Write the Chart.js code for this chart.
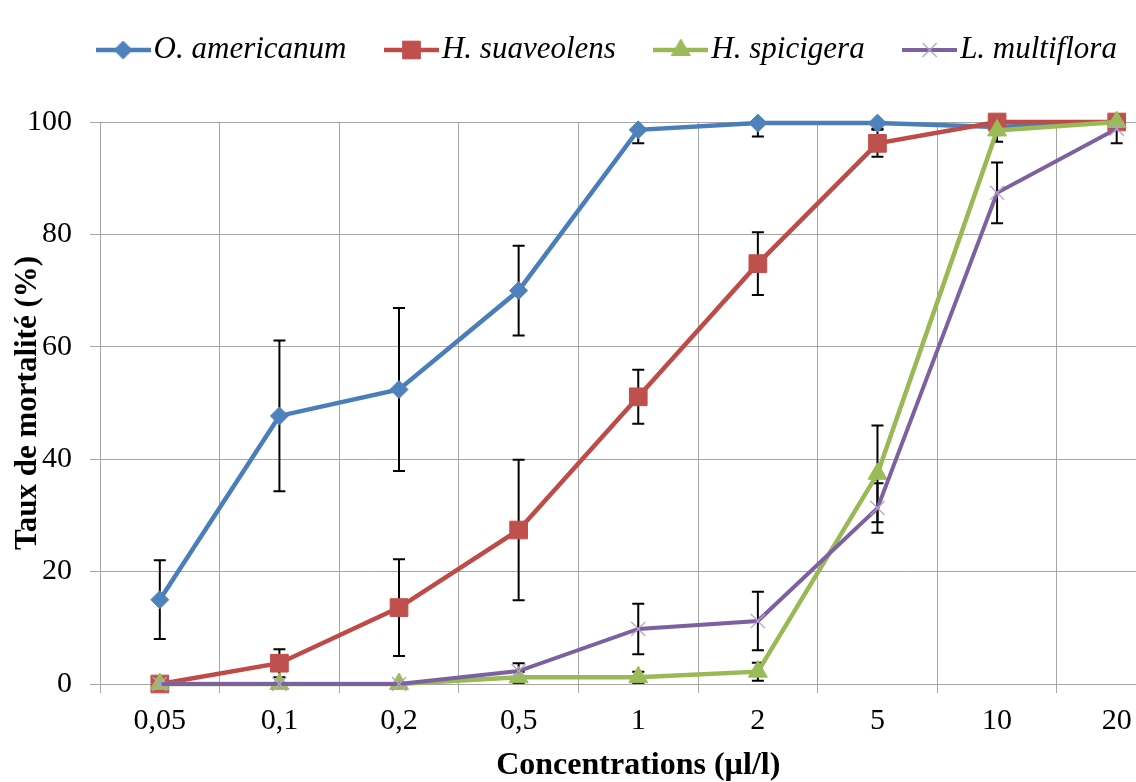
<!DOCTYPE html>
<html>
<head>
<meta charset="utf-8">
<script src="https://cdn.jsdelivr.net/npm/chart.js@4.4.1/dist/chart.umd.min.js"></script>
<style>
  html, body { margin: 0; padding: 0; background: #fff; overflow: hidden; }
  #wrap { position: relative; width: 1136px; height: 782px; overflow: hidden; background: #fff; }
  #c { position: absolute; left: 0; top: 0; }
</style>
</head>
<body>
<div id="wrap"><canvas id="c" width="1190" height="782"></canvas></div>
<script>
// ---- data ----
const categories = ["0,05", "0,1", "0,2", "0,5", "1", "2", "5", "10", "20"];
const seriesNames = ["O. americanum", "H. suaveolens", "H. spicigera", "L. multiflora"];
const oAmericanum  = [15, 47.7, 52.4, 70, 98.6, 99.8, 99.8, 99.1, 100];
const hSuaveolens  = [0, 3.7, 13.6, 27.4, 51.1, 74.8, 96.2, 100, 100];
const hSpicigera   = [0, 0, 0, 1.2, 1.2, 2.2, 37.4, 98.5, 100];
const lMultiflora  = [0, 0, 0, 2.3, 9.8, 11.2, 31.3, 87.4, 98.8];
const oAmericanumErr = [7, 13.4, 14.5, 8, 2.4, 2.4, 1, 1, 0];
const hSuaveolensErr = [0, 2.5, 8.6, 12.5, 4.8, 5.6, 2.4, 0, 0];
const hSpicigeraErr  = [0, 0, 0, 1, 1, 1.6, 8.6, 2, 0];
const lMultifloraErr = [0, 0, 0, 1.4, 4.5, 5.2, 4.4, 5.4, 2.6];
const yTicks = [0, 20, 40, 60, 80, 100];

const FONT = "'Liberation Serif', 'Times New Roman', serif";
Chart.defaults.color = '#000';
Chart.defaults.font.family = FONT;

const styles = [
  { line: '#4A7EBB', fill: '#4F81BD', border: '#4F81BD', point: 'rectRot', radius: 9, lw: 4.5, pbw: 1 },
  { line: '#BE4B48', fill: '#C0504D', border: '#C0504D', point: 'rect', radius: 12.5, lw: 4.5, pbw: 1 },
  { line: '#98B954', fill: '#9BBB59', border: '#9BBB59', point: 'triangle', radius: 11, lw: 4.5, pbw: 1 },
  { line: '#7D60A0', fill: 'rgba(0,0,0,0)', border: '#B3A2C7', point: 'crossRot', radius: 10, lw: 4, pbw: 1.3 }
];
const values = [oAmericanum, hSuaveolens, hSpicigera, lMultiflora];
const errors = [oAmericanumErr, hSuaveolensErr, hSpicigeraErr, lMultifloraErr];

function makeIcon(s) {
  const cv = document.createElement('canvas');
  cv.width = 55; cv.height = 28;
  const ctx = cv.getContext('2d');
  ctx.strokeStyle = s.line; ctx.lineWidth = s.lw;
  ctx.beginPath(); ctx.moveTo(0, 14); ctx.lineTo(55, 14); ctx.stroke();
  ctx.fillStyle = s.fill; ctx.strokeStyle = s.border; ctx.lineWidth = s.pbw;
  Chart.helpers.drawPoint(ctx, { pointStyle: s.point, radius: s.radius, borderWidth: s.pbw, rotation: 0 }, 27.5, 14);
  return cv;
}
const icons = styles.map(makeIcon);

const datasets = seriesNames.map((name, i) => ({
  label: name,
  data: values[i],
  errors: errors[i],
  borderColor: styles[i].line,
  backgroundColor: styles[i].fill,
  borderWidth: styles[i].lw,
  pointStyle: styles[i].point,
  pointRadius: styles[i].radius,
  pointBackgroundColor: styles[i].fill,
  pointBorderColor: styles[i].border,
  pointBorderWidth: styles[i].pbw,
  tension: 0,
  fill: false,
  clip: 14,
  order: 4 - i
}));

const LEGEND_CX = 612.5, LEGEND_CY = 50;

const layoutPlugin = {
  id: 'layoutTweaks',
  beforeInit(chart) {
    const lg = chart.legend;
    const orig = lg.fit;
    lg.fit = function () { orig.call(this); this.height = 122; };
  },
  afterLayout(chart) {
    const lg = chart.legend;
    const pad = lg.options.labels.padding;
    const fs = lg.options.labels.font.size;
    const dx = LEGEND_CX - (lg.left + lg.right) / 2;
    const dy = LEGEND_CY - (lg.top + pad + fs / 2);
    lg.left += dx; lg.right += dx; lg.top += dy; lg.bottom += dy;
  }
};

const errorBarPlugin = {
  id: 'errorBars',
  beforeDatasetsDraw(chart) {
    const ctx = chart.ctx, ca = chart.chartArea;
    const x = chart.scales.x, y = chart.scales.y;
    ctx.save();
    ctx.beginPath(); ctx.rect(ca.left, ca.top, ca.right - ca.left, ca.bottom - ca.top); ctx.clip();
    ctx.strokeStyle = '#000'; ctx.lineWidth = 2;
    chart.data.datasets.forEach(ds => {
      ds.data.forEach((v, i) => {
        const e = ds.errors[i];
        if (!e) return;
        const px = x.getPixelForValue(i);
        const yt = y.getPixelForValue(v + e), yb = y.getPixelForValue(v - e);
        ctx.beginPath();
        ctx.moveTo(px, yt); ctx.lineTo(px, yb);
        ctx.moveTo(px - 6, yt); ctx.lineTo(px + 6, yt);
        ctx.moveTo(px - 6, yb); ctx.lineTo(px + 6, yb);
        ctx.stroke();
      });
    });
    ctx.restore();
  }
};

new Chart(document.getElementById('c'), {
  type: 'line',
  data: { labels: categories, datasets },
  options: {
    responsive: false,
    animation: false,
    devicePixelRatio: 1,
    layout: { padding: { left: 0, right: 4, top: 0, bottom: 0 } },
    plugins: {
      tooltip: { enabled: false },
      legend: {
        position: 'top',
        labels: {
          usePointStyle: true,
          pointStyleWidth: 30,
          padding: 50,
          color: '#000',
          font: { family: FONT, size: 31, style: 'italic' },
          sort: (a, b) => a.datasetIndex - b.datasetIndex,
          generateLabels(chart) {
            const items = Chart.defaults.plugins.legend.labels.generateLabels(chart);
            items.forEach(it => { it.pointStyle = icons[it.datasetIndex]; });
            return items;
          }
        }
      }
    },
    scales: {
      x: {
        type: 'category',
        offset: true,
        grid: { color: '#A6A6A6', lineWidth: 1, offset: true, tickLength: 9, drawTicks: true },
        border: { color: '#A6A6A6', width: 1 },
        ticks: { padding: 10, font: { family: FONT, size: 30 }, color: '#000', maxRotation: 0, autoSkip: false },
        title: { display: true, text: 'Concentrations (µl/l)', font: { family: FONT, size: 32, weight: 'bold', lineHeight: 1 }, padding: { top: 0, bottom: 0 }, color: '#000' },
        afterFit(s) { s.height = 98; }
      },
      y: {
        min: 0, max: 100,
        afterBuildTicks(s) { s.ticks = yTicks.map(v => ({ value: v })); },
        grid: { color: '#A6A6A6', lineWidth: 1, tickLength: 10 },
        border: { color: '#A6A6A6', width: 1 },
        ticks: { padding: 18, font: { family: FONT, size: 30 }, color: '#000' },
        title: { display: true, text: 'Taux de mortalité (%)', font: { family: FONT, size: 31, weight: 'bold', lineHeight: 1.2 }, padding: { top: 9, bottom: 0 }, color: '#000' },
        afterFit(s) { s.width = 100; }
      }
    }
  },
  plugins: [layoutPlugin, errorBarPlugin]
});
</script>
</body>
</html>
